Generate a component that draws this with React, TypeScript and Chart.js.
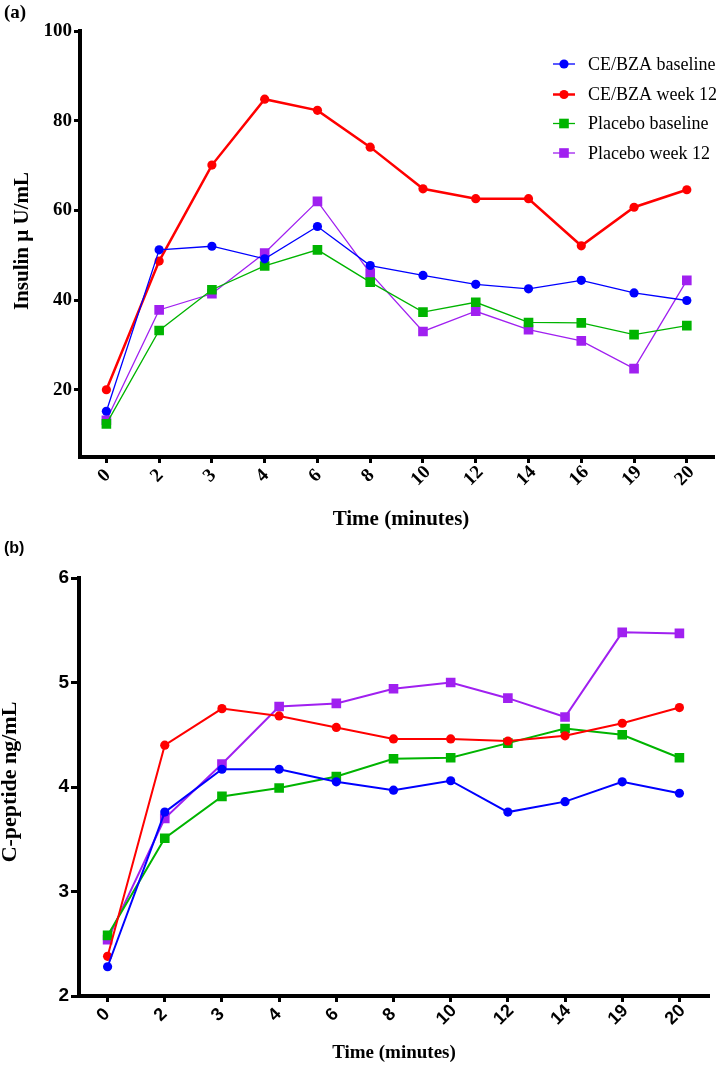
import React, { useEffect, useRef } from "react";
import { Chart, registerables } from "chart.js";

Chart.register(...registerables);

// ---------- data ----------
const seriesNames = ["CE/BZA baseline", "CE/BZA week 12", "Placebo baseline", "Placebo week 12"];
const seriesColors = ["#0000ff", "#ff0000", "#00b400", "#a020f0"];
const seriesPointStyles = ["circle", "circle", "rect", "rect"];

// (a) Insulin
const insulinTimes = ["0", "2", "3", "4", "6", "8", "10", "12", "14", "16", "19", "20"];
const insulinCeBzaBaseline = [15.2, 51.2, 52.0, 49.2, 56.4, 47.7, 45.5, 43.5, 42.5, 44.4, 41.6, 39.9];
const insulinCeBzaWeek12 = [20.0, 48.7, 70.1, 84.8, 82.3, 74.1, 64.8, 62.6, 62.6, 52.1, 60.7, 64.6];
const insulinPlaceboBaseline = [12.4, 33.2, 42.3, 47.6, 51.2, 44.0, 37.3, 39.5, 35.0, 34.9, 32.3, 34.3];
const insulinPlaceboWeek12 = [13.2, 37.8, 41.4, 50.5, 62.0, 46.0, 33.0, 37.5, 33.4, 30.9, 24.7, 44.4];
const insulinYTicks = [20, 40, 60, 80, 100];

// (b) C-peptide
const cpepTimes = ["0", "2", "3", "4", "6", "8", "10", "12", "14", "19", "20"];
const cpepCeBzaBaseline = [2.28, 3.76, 4.17, 4.17, 4.05, 3.97, 4.06, 3.76, 3.86, 4.05, 3.94];
const cpepCeBzaWeek12 = [2.38, 4.4, 4.75, 4.68, 4.57, 4.46, 4.46, 4.44, 4.49, 4.61, 4.76];
const cpepPlaceboBaseline = [2.58, 3.51, 3.91, 3.99, 4.1, 4.27, 4.28, 4.42, 4.56, 4.5, 4.28];
const cpepPlaceboWeek12 = [2.54, 3.7, 4.22, 4.77, 4.8, 4.94, 5.0, 4.85, 4.67, 5.48, 5.47];
const cpepYTicks = [2, 3, 4, 5, 6];

type PanelSpec = {
  width: number;
  height: number;
  area: { left: number; right: number; top: number; bottom: number };
  labels: string[];
  series: number[][];
  lineWidths: number[];
  circleRadius: number;
  rectRadius: number;
  yMin: number;
  yMax: number;
  yTicks: number[];
  yTickFamily: string;
  yTickSize: number;
  yTickLength: number;
  xTickFont: string;
  xLabelDx: number;
  xLabelDy: number;
  xTitle: string;
  xTitleFont: string;
  xTitlePos: [number, number];
  yTitle: string;
  yTitleFont: string;
  yTitlePos: [number, number];
  panelLabel: string;
  panelFont: string;
  panelPos: [number, number];
  legend: boolean;
};

function drawMarker(ctx: CanvasRenderingContext2D, style: string, x: number, y: number, r: number, color: string) {
  ctx.fillStyle = color;
  ctx.beginPath();
  if (style === "circle") {
    ctx.arc(x, y, r, 0, Math.PI * 2);
  } else {
    const s = r * Math.SQRT1_2;
    ctx.rect(x - s, y - s, 2 * s, 2 * s);
  }
  ctx.fill();
}

function makeOverlay(spec: PanelSpec) {
  return {
    id: "overlay",
    afterDraw(chart: any) {
      const ctx: CanvasRenderingContext2D = chart.ctx;
      const xs = chart.scales.x;
      const area = chart.chartArea;
      ctx.save();
      ctx.fillStyle = "#000";
      // x tick labels, rotated
      ctx.font = spec.xTickFont;
      ctx.textAlign = "center";
      ctx.textBaseline = "middle";
      xs.ticks.forEach((t: any, i: number) => {
        const px = xs.getPixelForTick(i);
        ctx.save();
        ctx.translate(px + spec.xLabelDx, area.bottom + spec.xLabelDy);
        ctx.rotate(-Math.PI / 4);
        ctx.fillText(String(xs.getLabelForValue(t.value)), 0, 0);
        ctx.restore();
      });
      // x title
      ctx.font = spec.xTitleFont;
      ctx.fillText(spec.xTitle, spec.xTitlePos[0], spec.xTitlePos[1]);
      // y title
      ctx.save();
      ctx.font = spec.yTitleFont;
      ctx.translate(spec.yTitlePos[0], spec.yTitlePos[1]);
      ctx.rotate(-Math.PI / 2);
      ctx.fillText(spec.yTitle, 0, 0);
      ctx.restore();
      // panel label
      ctx.font = spec.panelFont;
      ctx.textAlign = "left";
      ctx.fillText(spec.panelLabel, spec.panelPos[0], spec.panelPos[1]);
      // legend
      if (spec.legend) {
        const rows = [64, 94.5, 123.5, 153];
        ctx.font = "18px 'Liberation Serif', 'Times New Roman', serif";
        ctx.textBaseline = "middle";
        seriesNames.forEach((name, i) => {
          const y = rows[i];
          ctx.strokeStyle = seriesColors[i];
          ctx.lineWidth = spec.lineWidths[i];
          ctx.beginPath();
          ctx.moveTo(553, y);
          ctx.lineTo(575, y);
          ctx.stroke();
          drawMarker(
            ctx,
            seriesPointStyles[i],
            564,
            y,
            seriesPointStyles[i] === "circle" ? spec.circleRadius : spec.rectRadius,
            seriesColors[i]
          );
          ctx.fillStyle = "#000";
          ctx.fillText(name, 588, y + 1);
        });
      }
      ctx.restore();
    },
  };
}

function Panel({ spec, top }: { spec: PanelSpec; top: number }) {
  const ref = useRef<HTMLCanvasElement | null>(null);
  useEffect(() => {
    if (!ref.current) return;
    const chart = new Chart(ref.current, {
      type: "line",
      data: {
        labels: spec.labels,
        datasets: spec.series.map((vals, i) => ({
          label: seriesNames[i],
          data: vals,
          borderColor: seriesColors[i],
          backgroundColor: seriesColors[i],
          borderWidth: spec.lineWidths[i],
          pointStyle: seriesPointStyles[i] as any,
          pointRadius: seriesPointStyles[i] === "circle" ? spec.circleRadius : spec.rectRadius,
          pointBorderWidth: 0,
          pointBackgroundColor: seriesColors[i],
          tension: 0,
          fill: false,
        })),
      },
      options: {
        responsive: false,
        animation: false,
        devicePixelRatio: 1,
        layout: {
          padding: {
            left: 0,
            top: spec.area.top,
            right: spec.width - spec.area.right,
            bottom: 0,
          },
        },
        plugins: {
          legend: { display: false },
          tooltip: { enabled: false },
          title: { display: false },
        },
        scales: {
          x: {
            type: "category",
            offset: true,
            grid: {
              display: true,
              drawOnChartArea: false,
              drawTicks: true,
              tickLength: 6,
              lineWidth: 3,
              color: "#000",
            },
            border: { display: true, color: "#000", width: 4 },
            ticks: { display: false },
            afterFit: (s: any) => {
              s.height = spec.height - spec.area.bottom;
            },
          },
          y: {
            type: "linear",
            min: spec.yMin,
            max: spec.yMax,
            grid: {
              display: true,
              drawOnChartArea: false,
              drawTicks: true,
              tickLength: spec.yTickLength,
              lineWidth: 3,
              color: "#000",
            },
            border: { display: true, color: "#000", width: 4 },
            ticks: {
              color: "#000",
              padding: 2,
              font: { family: spec.yTickFamily, size: spec.yTickSize, weight: "bold" },
            },
            afterBuildTicks: (s: any) => {
              s.ticks = spec.yTicks.map((v) => ({ value: v }));
            },
            afterFit: (s: any) => {
              s.width = spec.area.left;
            },
          },
        },
      },
      plugins: [makeOverlay(spec)],
    });
    return () => chart.destroy();
  }, []);
  return (
    <canvas
      ref={ref}
      width={spec.width}
      height={spec.height}
      style={{ position: "absolute", left: 0, top, width: spec.width, height: spec.height, display: "block" }}
    />
  );
}

const serif = "'Liberation Serif', 'Times New Roman', serif";
const sans = "'Liberation Sans', Arial, sans-serif";

const specA: PanelSpec = {
  width: 720,
  height: 532,
  area: { left: 80, right: 718, top: 31, bottom: 457 },
  labels: insulinTimes,
  series: [insulinCeBzaBaseline, insulinCeBzaWeek12, insulinPlaceboBaseline, insulinPlaceboWeek12],
  lineWidths: [1.3, 2.5, 1.3, 1.3],
  circleRadius: 4.6,
  rectRadius: 6.8,
  yMin: 5,
  yMax: 100,
  yTicks: insulinYTicks,
  yTickFamily: serif,
  yTickSize: 19,
  yTickLength: 6,
  xTickFont: "bold 19px " + serif,
  xLabelDx: -2,
  xLabelDy: 19,
  xTitle: "Time (minutes)",
  xTitleFont: "bold 21px " + serif,
  xTitlePos: [401, 520],
  yTitle: "Insulin \u00b5 U/mL",
  yTitleFont: "bold 21px " + serif,
  yTitlePos: [23, 241],
  panelLabel: "(a)",
  panelFont: "bold 19px " + serif,
  panelPos: [4, 13],
  legend: true,
};

const specB: PanelSpec = {
  width: 720,
  height: 533,
  area: { left: 79, right: 708, top: 46, bottom: 464 },
  labels: cpepTimes,
  series: [cpepCeBzaBaseline, cpepCeBzaWeek12, cpepPlaceboBaseline, cpepPlaceboWeek12],
  lineWidths: [2, 2, 2, 2],
  circleRadius: 4.6,
  rectRadius: 6.8,
  yMin: 2,
  yMax: 6,
  yTicks: cpepYTicks,
  yTickFamily: sans,
  yTickSize: 19,
  yTickLength: 8,
  xTickFont: "bold 18px " + sans,
  xLabelDx: -4,
  xLabelDy: 19,
  xTitle: "Time (minutes)",
  xTitleFont: "bold 19px " + serif,
  xTitlePos: [394, 521],
  yTitle: "C-peptide ng/mL",
  yTitleFont: "bold 22px " + serif,
  yTitlePos: [10, 250],
  panelLabel: "(b)",
  panelFont: "bold 16px " + sans,
  panelPos: [4, 17],
  legend: false,
};

export default function App() {
  return (
    <div style={{ position: "absolute", left: 0, top: 0, width: 720, height: 1065, background: "#fff" }}>
      <Panel spec={specA} top={0} />
      <Panel spec={specB} top={532} />
    </div>
  );
}
